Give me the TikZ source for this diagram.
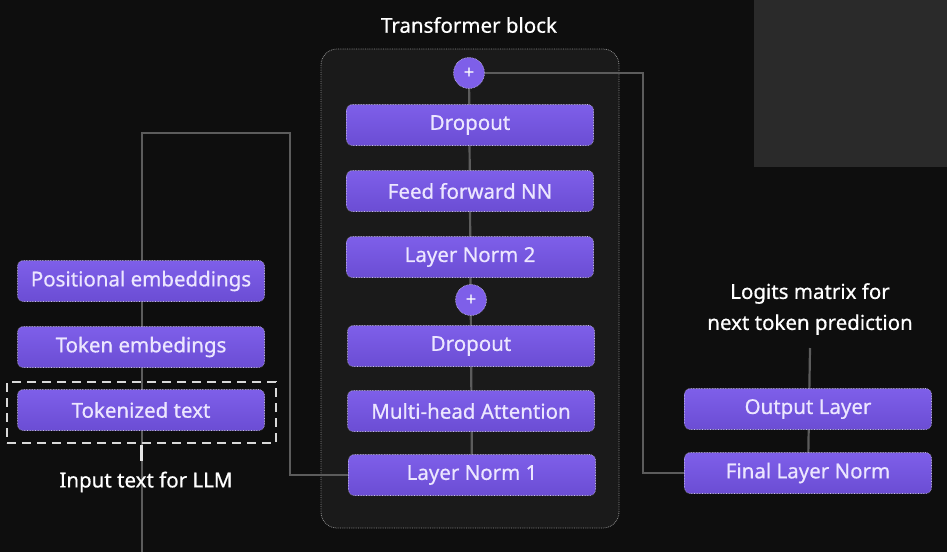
\documentclass[tikz,border=0pt]{standalone}
\usepackage{fontspec}
\setmainfont{Noto Sans}[FakeBold=0.6]
\usetikzlibrary{backgrounds}
\definecolor{bgc}{HTML}{0E0E0E}
\definecolor{panel}{HTML}{2A2A2A}
\definecolor{blockc}{HTML}{1A1A1A}
\definecolor{purpT}{HTML}{7E5FE9}
\definecolor{purpB}{HTML}{6B4DD4}
\definecolor{txtc}{HTML}{ECE6FF}
\definecolor{linec}{HTML}{5C5C5C}
\definecolor{bordc}{HTML}{C9C2E8}
\tikzset{
  layerbox/.style={rounded corners=6pt, top color=purpT, bottom color=purpB,
    draw=bordc, densely dotted, line width=0.6pt, minimum width=247pt, minimum height=41pt,
    text=txtc, font=\fontsize{20.5}{24}\selectfont, inner sep=0pt},
  plusc/.style={circle, fill=purpT, draw=bordc, densely dotted, line width=0.6pt,
    minimum size=31pt, inner sep=0pt, text=white, font=\fontsize{18}{18}\selectfont},
  conn/.style={draw=linec, line width=2.2pt},
  lbl/.style={text=white, font=\fontsize{20.5}{31}\selectfont, align=center}
}
\begin{document}
\begin{tikzpicture}[x=1pt,y=-1pt]
\useasboundingbox (0,0) rectangle (947,552);
\node[lbl] (title) at (469,25) {Transformer block};

\node[plusc] (plusA) at (469,73) {+};
\node[layerbox] (drop2) at (470,125) {Dropout};
\node[layerbox] (ffn) at (470,191) {Feed forward NN};
\node[layerbox] (ln2) at (470,257) {Layer Norm 2};
\node[plusc] (plusB) at (471,300) {+};
\node[layerbox] (drop1) at (471,346) {Dropout};
\node[layerbox] (mha) at (471,411) {Multi-head Attention};
\node[layerbox] (ln1) at (472,475) {Layer Norm 1};

\node[layerbox] (pos) at (141,281) {Positional embeddings};
\node[layerbox] (tok) at (141,347) {Token embedings};
\node[layerbox] (tkt) at (141,410) {Tokenized text};
\node[draw=white!85!black, dashed, dash pattern=on 9pt off 6pt, line width=2pt, minimum width=269pt, minimum height=61pt] (dbox) at (141.5,412.5) {};
\node[lbl] (inlbl) at (146,482) {Input text for LLM};

\node[layerbox] (outl) at (808,409) {Output Layer};
\node[layerbox] (fln) at (808,473) {Final Layer Norm};
\node[lbl] (logits) at (810,309) {Logits matrix for\\next token prediction};

\coordinate (inbot) at (142,552);
\coordinate (logtop) at (810,348);

\begin{scope}[on background layer]
\fill[bgc] (0,0) rectangle (947,552);
\fill[panel] (754,0) rectangle (947,167);
\draw[fill=blockc, draw=linec!70!white, densely dotted, line width=0.8pt, rounded corners=16pt] (321,49) rectangle (619,528);
\draw[conn] (plusA.center) -- (ln1.center);
\draw[conn] (inbot) -- (142,133) -- (290,133) -- (290,475) -- (ln1.west);
\draw[conn] (plusA.east) -- (643,73) -- (643,473) -- (fln.west);
\draw[conn] (fln.center) -- (logtop);
\end{scope}
\draw[draw=white!90!black, line width=2.5pt] (dbox.south) ++(0,1) -- ++(0,16);

\end{tikzpicture}
\end{document}
